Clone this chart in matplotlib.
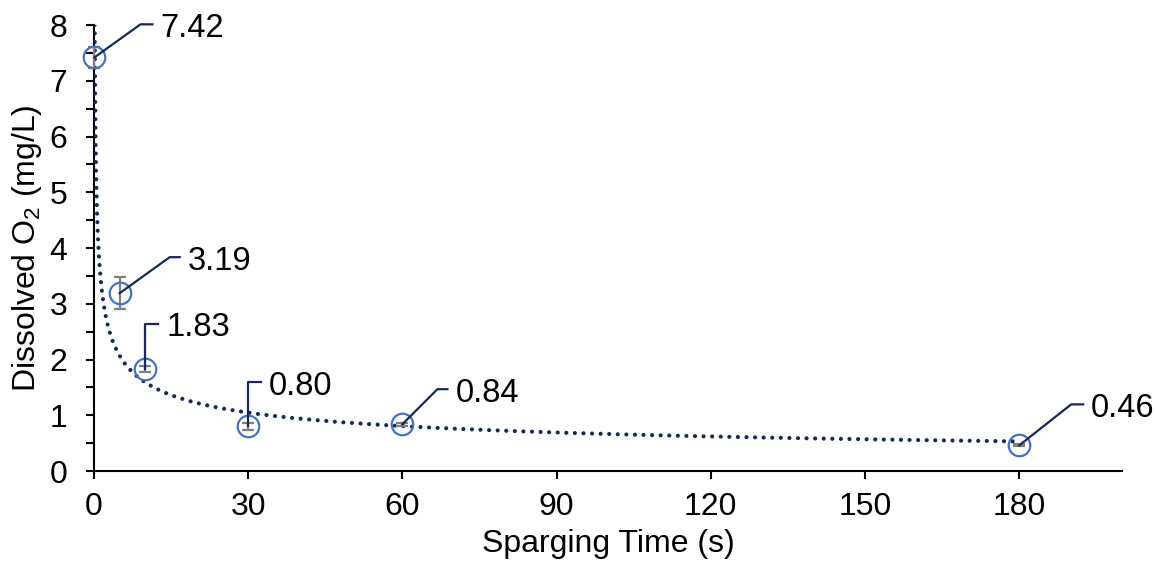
import numpy as np
import matplotlib
matplotlib.use("Agg")
import matplotlib.pyplot as plt
from matplotlib.lines import Line2D
from matplotlib.transforms import IdentityTransform


# =========================
# data
# =========================
time_s = np.array([0.1, 5, 10, 30, 60, 180])
do_mg_l = np.array([7.42, 3.19, 1.83, 0.80, 0.84, 0.46])
do_err = np.array([0.19, 0.29, 0.06, 0.07, 0.03, 0.02])
value_labels = ["7.42", "3.19", "1.83", "0.80", "0.84", "0.46"]

x_ticks = [0, 30, 60, 90, 120, 150, 180]
y_ticks = [0, 1, 2, 3, 4, 5, 6, 7, 8]

# leader line layout per label: (dx, dy, run) in pixels
leader_px = [(46, 33, 12), (50, 36, 10), (0, 45, 13),
             (0, 44, 13), (35, 35, 10), (52, 41, 12)]

NAVY = "#15295a"
BLUE = "#4472c4"
GRAY = "#7f7f7f"

plt.rcParams["font.family"] = ["Liberation Sans", "DejaVu Sans"]
plt.rcParams["mathtext.fontset"] = "custom"
plt.rcParams["mathtext.rm"] = "Liberation Sans"

FS = 23
FS_LABEL = 23.5


# power trendline  y = a * x^b  (least squares on log-log, like Excel)
b, ln_a = np.polyfit(np.log(time_s), np.log(do_mg_l), 1)
a = np.exp(ln_a)
x_fit = np.geomspace(time_s.min(), time_s.max(), 400)
y_fit = a * x_fit ** b


fig = plt.figure(figsize=(11.56, 5.71), dpi=100)
ax = fig.add_axes([0.0813, 0.1751, 0.9706 - 0.0813, 0.9562 - 0.1751])

ax.plot(x_fit, y_fit, color=NAVY, linewidth=3.0,
        linestyle=(0, (0.01, 2.05)), dash_capstyle="round", zorder=2)

eb = ax.errorbar(time_s, do_mg_l, yerr=do_err, fmt="none", ecolor=GRAY,
                 elinewidth=1.6, capsize=4.5, capthick=1.6, zorder=3)
for artist in eb.lines[1] + eb.lines[2]:
    artist.set_clip_on(False)
ax.plot(time_s, do_mg_l, linestyle="none", marker="o", markersize=15.5,
        markerfacecolor="none", markeredgecolor=BLUE, markeredgewidth=1.6,
        zorder=4, clip_on=False)

ax.set_xlim(0, 200)
ax.set_ylim(0, 8)
ax.set_xticks(x_ticks)
ax.set_yticks(y_ticks)
ax.set_yticks(np.arange(0.5, 8, 1.0), minor=True)

for s in ["top", "right"]:
    ax.spines[s].set_visible(False)
for s in ["left", "bottom"]:
    ax.spines[s].set_linewidth(1.5)
    ax.spines[s].set_zorder(1)

ax.tick_params(axis="both", which="both", direction="out", width=1.5,
               length=6, labelsize=FS, colors="black")
ax.tick_params(axis="y", pad=13)
ax.tick_params(axis="x", pad=9)

ax.set_xlabel("Sparging Time (s)", fontsize=FS, labelpad=5)
ax.set_ylabel(r"Dissolved O$_\mathregular{2}$ (mg/L)", fontsize=FS, labelpad=4)

# data labels with elbow leader lines
fig.canvas.draw()
for xv, yv, txt, (dx, dy, run) in zip(time_s, do_mg_l, value_labels, leader_px):
    px, py = ax.transData.transform((xv, yv))
    ex, ey = px + dx, py + dy
    fig.add_artist(Line2D([px, ex, ex + run], [py, ey, ey],
                          transform=IdentityTransform(), color=NAVY,
                          linewidth=1.6, zorder=5))
    fig.text(ex + run + 8, ey - 4, txt, transform=IdentityTransform(),
             fontsize=FS_LABEL, ha="left", va="center", color="black")

fig.savefig("out.png", dpi=100)
